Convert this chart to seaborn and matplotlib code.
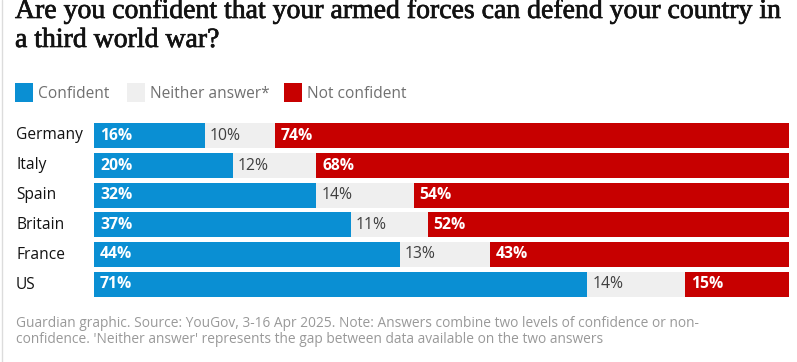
import matplotlib
matplotlib.use("Agg")
import matplotlib.pyplot as plt
import seaborn as sns
import pandas as pd
from matplotlib.lines import Line2D
from matplotlib.patches import Rectangle
import matplotlib.patheffects as pe

countries = ["Germany", "Italy", "Spain", "Britain", "France", "US"]
confident = [16, 20, 32, 37, 44, 71]
neither = [10, 12, 14, 11, 13, 14]
not_confident = [74, 68, 54, 52, 43, 15]
series_names = ["Confident", "Neither answer*", "Not confident"]
colors = ["#0a8fd3", "#efefef", "#c70000"]

title_lines = ["Are you confident that your armed forces can defend your country in",
               "a third world war?"]
footer_lines = ["Guardian graphic. Source: YouGov, 3-16 Apr 2025. Note: Answers combine two levels of confidence or non-",
                "confidence. 'Neither answer' represents the gap between data available on the two answers"]

W, H = 797, 362
sns.set_style("white")
plt.rcParams['font.family'] = ['Open Sans', 'DejaVu Sans']

df = pd.DataFrame({"country": countries, "c": confident, "n": neither, "x": not_confident})
df["cn"] = df["c"] + df["n"]
df["total"] = df["cn"] + df["x"]

fig = plt.figure(figsize=(W / 100, H / 100), dpi=100)
ax = fig.add_axes([94 / W, 1 - 298 / H, (789 - 94) / W, (298 - 122) / H])

bw = 25 / 30
sns.barplot(data=df, y="country", x="total", color=colors[2], width=bw, ax=ax,
            saturation=1, orient="h", order=countries)
sns.barplot(data=df, y="country", x="cn", color=colors[1], width=bw, ax=ax,
            saturation=1, orient="h", order=countries)
sns.barplot(data=df, y="country", x="c", color=colors[0], width=bw, ax=ax,
            saturation=1, orient="h", order=countries)
for p in ax.patches:
    p.set_linewidth(0)

ax.set_xlim(0, 100)
ax.set_ylim(5.4667, -0.4667)
ax.set_xlabel("")
ax.set_ylabel("")
ax.set_xticks([])
ax.set_yticks([])
for s in ax.spines.values():
    s.set_visible(False)

off = 0.85
lfs = 11.3
for i, row in df.iterrows():
    ax.text(off, i, f"{row['c']}%", color="white", fontweight="bold", fontsize=lfs,
            va="center", ha="left")
    ax.text(row["c"] + off * 0.8, i, f"{row['n']}%", color="#3f3f3f", fontsize=lfs,
            va="center", ha="left")
    ax.text(row["cn"] + off, i, f"{row['x']}%", color="white", fontweight="bold", fontsize=lfs,
            va="center", ha="left")
    fig.text(16 / W, 1 - (135 + 30 * i) / H, row["country"], color="#121212", fontsize=11.2,
             va="center", ha="left")

# title
tfont = dict(family=["Liberation Serif", "DejaVu Serif"], fontsize=20, color="#121212",
             path_effects=[pe.withStroke(linewidth=0.5, foreground="#121212")])
fig.text(15 / W, 1 - 18 / H, title_lines[0], va="baseline", ha="left", **tfont)
fig.text(15 / W, 1 - 47 / H, title_lines[1], va="baseline", ha="left", **tfont)

# legend
lx = [15, 127, 284]
for x0, name, col in zip(lx, series_names, colors):
    fig.patches.append(Rectangle((x0 / W, 1 - 102 / H), 18 / W, 19 / H,
                                 transform=fig.transFigure, color=col, linewidth=0))
    fig.text((x0 + 23) / W, 1 - 93.5 / H, name, color="#707070", fontsize=11.2,
             va="center", ha="left")

# footer
fig.text(16 / W, 1 - 327 / H, footer_lines[0], color="#999999", fontsize=9.9,
         va="baseline", ha="left")
fig.text(16 / W, 1 - 343 / H, footer_lines[1], color="#999999", fontsize=9.9,
         va="baseline", ha="left")

fig.add_artist(Line2D([1.5 / W, 1.5 / W], [0, 1], transform=fig.transFigure,
                      color="#dcdcdc", linewidth=1))

fig.savefig("out.png", dpi=100, facecolor="white")
